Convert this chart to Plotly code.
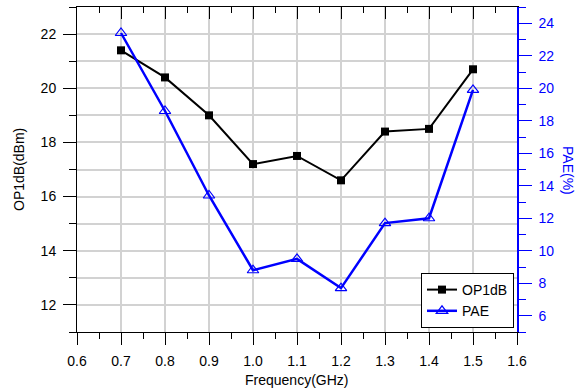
import plotly.graph_objects as go

freq = [0.7, 0.8, 0.9, 1.0, 1.1, 1.2, 1.3, 1.4, 1.5]
op1db = [21.4, 20.4, 19.0, 17.2, 17.5, 16.6, 18.4, 18.5, 20.7]
pae = [23.4, 18.6, 13.4, 8.8, 9.5, 7.7, 11.7, 12.0, 19.9]
x_ticks = [0.6, 0.7, 0.8, 0.9, 1.0, 1.1, 1.2, 1.3, 1.4, 1.5, 1.6]

FONT = "Liberation Sans, Arial, sans-serif"
BLUE = "#0000ff"
GRID = "#d2d2d2"

W, H = 577, 390
pl, pr, pt, pb = 77, 517, 7, 332


def px(x):
    return (x - pl) / (pr - pl)


def py(y):
    return (pb - y) / (pb - pt)


fig = go.Figure()
fig.add_trace(go.Scatter(
    x=freq, y=op1db, name="OP1dB", mode="lines+markers",
    line=dict(color="black", width=2),
    marker=dict(symbol="square", size=8, color="black"),
    yaxis="y"))
fig.add_trace(go.Scatter(
    x=freq, y=pae, name="PAE", mode="lines+markers",
    line=dict(color=BLUE, width=2.5),
    marker=dict(symbol="triangle-up-open", size=10, color=BLUE, line=dict(width=1.2)),
    yaxis="y2"))
# invisible trace to create top axis
fig.add_trace(go.Scatter(x=[0.6, 1.6], y=[None, None], xaxis="x2", showlegend=False,
                         hoverinfo="skip"))

fig.update_layout(
    width=W, height=H,
    margin=dict(l=pl, r=W - pr, t=pt, b=H - pb),
    paper_bgcolor="white", plot_bgcolor="white",
    font=dict(family=FONT, size=14, color="black"),
    showlegend=True,
    legend=dict(x=px(514), y=py(328), xanchor="right", yanchor="bottom",
                bgcolor="white", bordercolor="black", borderwidth=1,
                font=dict(size=14), itemwidth=30,
                tracegroupgap=0),
    xaxis=dict(range=[0.6, 1.6], tickvals=x_ticks, tickformat=".1f",
               ticks="outside", ticklen=12, tickwidth=1, tickcolor="black",
               showline=True, linecolor="black", linewidth=1,
               showgrid=True, gridcolor=GRID, gridwidth=1.5,
               zeroline=False, tickfont=dict(size=14), ticklabelstandoff=4,
               minor=dict(ticks="outside", ticklen=6, dtick=0.05, tick0=0.6,
                          tickcolor="black", showgrid=False)),
    xaxis2=dict(range=[0.6, 1.6], overlaying="x", side="top", anchor="y",
                tickvals=x_ticks, showticklabels=False,
                ticks="inside", ticklen=12, tickcolor="black",
                showline=True, linecolor="black", linewidth=1,
                showgrid=False, zeroline=False,
                minor=dict(ticks="inside", ticklen=6, dtick=0.05, tick0=0.6,
                           tickcolor="black", showgrid=False)),
    yaxis=dict(range=[11, 23], dtick=2, tick0=12,
               ticks="outside", ticklen=13, tickcolor="black",
               showline=True, linecolor="black", linewidth=1,
               showgrid=True, gridcolor=GRID, gridwidth=1.5, zeroline=False,
               tickfont=dict(size=14), ticklabelstandoff=4,
               minor=dict(ticks="outside", ticklen=7, dtick=1, tick0=11,
                          tickcolor="black", showgrid=True, gridcolor=GRID, gridwidth=1.5)),
    yaxis2=dict(range=[5, 25], dtick=2, tick0=6, overlaying="y", side="right",
                anchor="x",
                ticks="outside", ticklen=13, tickcolor=BLUE,
                tickfont=dict(color=BLUE, size=14), ticklabelstandoff=4,
                showline=True, linecolor=BLUE, linewidth=1.5,
                showgrid=False, zeroline=False,
                minor=dict(ticks="outside", ticklen=7, dtick=1, tick0=5,
                           tickcolor=BLUE, showgrid=False)),
    annotations=[
        dict(text="PAE(%)", textangle=90, x=px(568), y=py(170),
             xref="paper", yref="paper", showarrow=False,
             xanchor="center", yanchor="middle",
             font=dict(color=BLUE, size=14)),
        dict(text="OP1dB(dBm)", textangle=-90, x=px(19), y=py(170),
             xref="paper", yref="paper", showarrow=False,
             xanchor="center", yanchor="middle",
             font=dict(color="black", size=14)),
        dict(text="Frequency(GHz)", x=px(296), y=py(380),
             xref="paper", yref="paper", showarrow=False,
             xanchor="center", yanchor="middle",
             font=dict(color="black", size=14)),
    ],
)

fig.write_html("out.html")
